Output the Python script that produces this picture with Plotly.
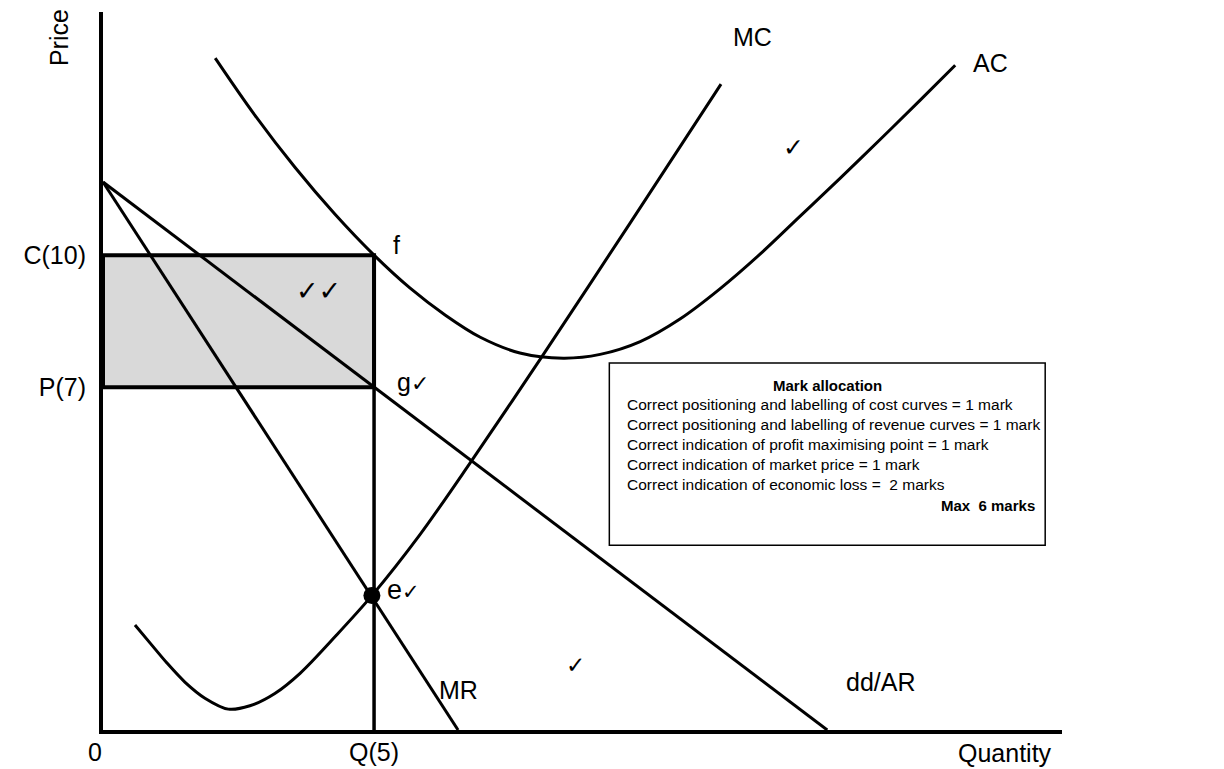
import plotly.graph_objects as go

# ---------------- data (schematic units: Q in quantity units, price units with C = 10) --------------
q_level = 5.0
c_level = 10.0
p_level = 7.22

ac_x = [2.07, 2.80, 3.54, 4.28, 5.00, 5.66, 6.31, 6.96, 7.69, 8.49, 9.17, 9.91, 10.65, 11.38, 12.12, 12.86, 13.60, 14.34, 15.07, 15.72]
ac_y = [14.15, 12.95, 11.85, 10.86, 10.00, 9.31, 8.74, 8.27, 7.94, 7.83, 7.91, 8.18, 8.66, 9.29, 10.02, 10.82, 11.62, 12.44, 13.26, 14.00]

mc_x = [0.59, 0.87, 1.18, 1.51, 1.88, 2.31, 2.71, 3.17, 3.64, 4.30, 4.96, 5.85, 6.77, 8.06, 9.72, 11.40]
mc_y = [2.21, 1.83, 1.41, 1.01, 0.67, 0.44, 0.51, 0.77, 1.20, 1.99, 2.83, 4.12, 5.62, 7.80, 10.67, 13.60]

mr_x = [0.0, 6.55]
mr_y = [11.54, 0.0]

ar_x = [0.0, 13.36]
ar_y = [11.54, 0.0]

e_x = [4.96]
e_y = [2.83]

x_labels = ["0", "Q(5)"]
x_label_pos = [0.0, q_level]
y_ticks = [p_level, c_level]
y_ticktext = ["P(7)", "C(10)"]

box_title = "Mark allocation"
box_lines = [
    "Correct positioning and labelling of cost curves = 1 mark",
    "Correct positioning and labelling of revenue curves = 1 mark",
    "Correct indication of profit maximising point = 1 mark",
    "Correct indication of market price = 1 mark",
    "Correct indication of economic loss =  2 marks",
]
box_total = "Max  6 marks"

FONT = "Liberation Sans, Arial, sans-serif"
CHECK_FONT = "DejaVu Serif, DejaVu Sans, serif"
BLACK = "black"

fig = go.Figure()

# loss rectangle (filled area between P and C up to Q)
fig.add_trace(go.Scatter(
    x=[0, q_level, q_level, 0, 0], y=[p_level, p_level, c_level, c_level, p_level],
    mode="lines", fill="toself", fillcolor="#d9d9d9",
    line=dict(color=BLACK, width=4), hoverinfo="skip", showlegend=False))

# vertical line at Q
fig.add_trace(go.Scatter(x=[q_level, q_level], y=[0, c_level], mode="lines",
                         line=dict(color=BLACK, width=3.5), hoverinfo="skip", showlegend=False))

# MR and AR
fig.add_trace(go.Scatter(x=mr_x, y=mr_y, mode="lines", line=dict(color=BLACK, width=3),
                         hoverinfo="skip", showlegend=False))
fig.add_trace(go.Scatter(x=ar_x, y=ar_y, mode="lines", line=dict(color=BLACK, width=3),
                         hoverinfo="skip", showlegend=False))

# AC and MC
fig.add_trace(go.Scatter(x=ac_x, y=ac_y, mode="lines", line=dict(color=BLACK, width=3, shape="spline", smoothing=1.0),
                         hoverinfo="skip", showlegend=False))
fig.add_trace(go.Scatter(x=mc_x, y=mc_y, mode="lines", line=dict(color=BLACK, width=3, shape="spline", smoothing=0.9),
                         hoverinfo="skip", showlegend=False))

# equilibrium point e
fig.add_trace(go.Scatter(x=e_x, y=e_y, mode="markers",
                         marker=dict(color=BLACK, size=17, symbol="circle"), hoverinfo="skip", showlegend=False))

# mark allocation box
fig.add_shape(type="rect", xref="x", yref="y", x0=9.34, x1=17.38, y0=3.89, y1=7.73,
              line=dict(color=BLACK, width=1.5), fillcolor="white", layer="above")

ann = []
def lab(x, y, text, size=25, xanchor="center", xref="x", yref="y", family=FONT, **kw):
    ann.append(dict(x=x, y=y, xref=xref, yref=yref, text=text, showarrow=False,
                    xanchor=xanchor, yanchor="middle", font=dict(family=family, size=size, color=BLACK), **kw))

lab(11.99, 14.59, "MC")
lab(16.02, 14.04, "AC", xanchor="left")
lab(12.73, 12.27, "✓", size=25, family=CHECK_FONT)
lab(5.42, 10.21, "f")
lab(5.39, 7.32, "g<span style='font-family:DejaVu Serif;font-size:22px'>✓</span>", xanchor="left")
lab(3.97, 9.26, "✓✓", size=27, family=CHECK_FONT)
lab(5.20, 2.95, "e<span style='font-family:DejaVu Serif;font-size:21px'>✓</span>", size=27, xanchor="left")
lab(6.55, 0.84, "MR")
lab(8.72, 1.37, "✓", size=23, family=CHECK_FONT)
lab(14.34, 1.01, "dd/AR")

# labels outside the plot area
lab(-0.0459, 0.965, "Price", xref="paper", yref="paper", textangle=-90)
lab(0.9406, -0.032, "Quantity", xref="paper", yref="paper")
lab(-0.0083, -0.031, x_labels[0], xref="paper", yref="paper")
lab(x_label_pos[1], -0.031, x_labels[1], xref="x", yref="paper")

# box text
lab(13.36, 7.26, "<b>" + box_title + "</b>", size=15)
for i, t in enumerate(box_lines):
    lab(9.63, 6.86 - i * 0.421, t, size=15.5, xanchor="left")
lab(17.22, 4.72, "<b>" + box_total + "</b>", size=15, xanchor="right")

fig.update_layout(
    width=1224, height=769,
    margin=dict(l=103, r=162, t=12, b=39),
    paper_bgcolor="white", plot_bgcolor="white",
    annotations=ann,
    xaxis=dict(range=[0, 17.69], showgrid=False, zeroline=False, showline=True, linecolor=BLACK, linewidth=4,
               showticklabels=False, ticks="", fixedrange=True, automargin=False),
    yaxis=dict(range=[0, 15.12], showgrid=False, zeroline=False, showline=True, linecolor=BLACK, linewidth=4,
               tickvals=y_ticks, ticktext=y_ticktext, ticks="", ticklabelstandoff=8,
               tickfont=dict(family=FONT, size=25, color=BLACK), fixedrange=True, automargin=False),
    showlegend=False,
    hovermode=False,
)

page_fix = (
    "document.documentElement.style.margin='0';"
    "document.documentElement.style.overflow='hidden';"
    "document.body.style.margin='0';"
    "document.body.style.overflow='hidden';"
    "var gd=document.getElementById('{plot_id}');"
    "gd.style.position='absolute';gd.style.left='0px';gd.style.top='0px';"
)
fig.write_html("out.html", config={"displayModeBar": False}, post_script=page_fix)
